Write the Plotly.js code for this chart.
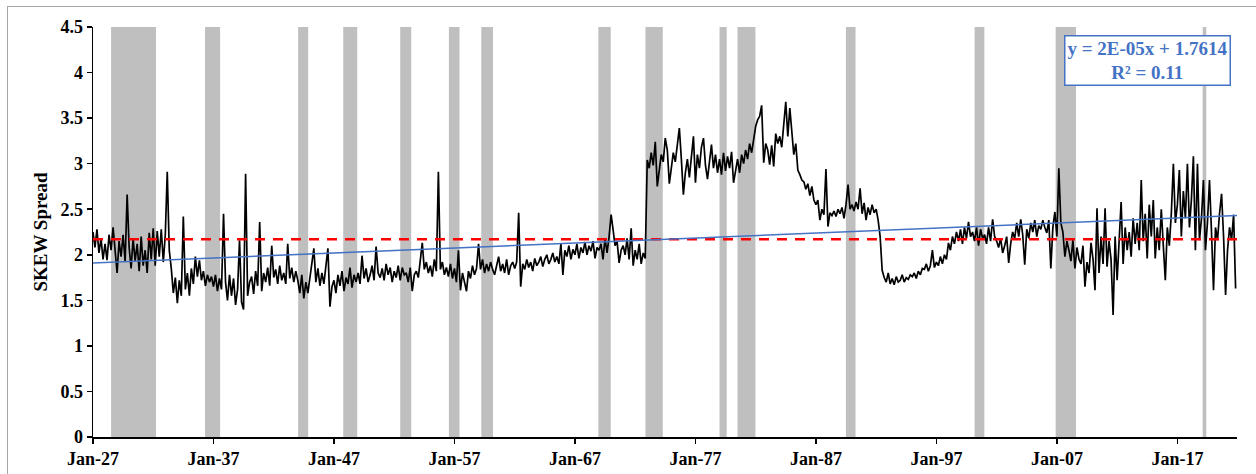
<!DOCTYPE html>
<html><head><meta charset="utf-8">
<script src="https://cdn.plot.ly/plotly-3.0.1.min.js"></script>
<style>
html,body{margin:0;padding:0;background:#fff;}
#wrap{position:relative;width:1256px;height:474px;overflow:hidden;}
#chart{width:1256px;height:474px;}
#frame{position:absolute;left:7px;top:6px;width:1300px;height:500px;border:1px solid #a6a6a6;pointer-events:none;}
</style></head><body>
<div id="wrap"><div id="chart"></div><div id="frame"></div></div>
<script>
// ---- data (bi-monthly readings, 6 per year, starting Jan 1927) ----
const startYear = 1927;
const perYear = 6;
const skewSpread = [
/*1927*/ 2.25, 2.08, 2.28, 2.02, 2.18, 1.95,
/*1928*/ 2.12, 1.94, 2.22, 2.05, 2.30, 2.02,
/*1929*/ 1.80, 2.15, 1.98, 2.22, 1.92, 2.66,
/*1930*/ 2.08, 1.85, 2.18, 1.93, 2.12, 1.82,
/*1931*/ 2.20, 1.88, 2.05, 1.80, 2.24, 1.95,
/*1932*/ 2.29, 1.88, 2.26, 1.98, 2.28, 1.92,
/*1933*/ 2.22, 2.91, 2.05, 1.85, 1.58, 1.75,
/*1934*/ 1.47, 1.72, 1.55, 2.42, 1.62, 1.80,
/*1935*/ 1.55, 1.85, 1.68, 1.98, 1.76, 1.94,
/*1936*/ 1.72, 1.82, 1.66, 1.78, 1.70, 1.76,
/*1937*/ 1.65, 1.78, 1.60, 1.74, 1.62, 2.45,
/*1938*/ 1.70, 1.50, 1.78, 1.55, 1.74, 1.45,
/*1939*/ 1.62, 2.16, 1.48, 1.40, 2.89, 1.55,
/*1940*/ 1.70, 1.76, 1.57, 1.82, 1.66, 2.36,
/*1941*/ 1.60, 1.80, 1.70, 1.86, 1.66, 2.10,
/*1942*/ 1.75, 1.84, 1.68, 1.88, 1.72, 1.80,
/*1943*/ 1.68, 2.12, 1.74, 1.86, 1.70, 1.82,
/*1944*/ 1.72, 1.58, 1.78, 1.52, 1.70, 1.58,
/*1945*/ 1.75, 1.90, 2.07, 1.70, 1.85, 1.66,
/*1946*/ 1.80, 1.68, 1.88, 2.07, 1.43, 1.65,
/*1947*/ 1.72, 1.58, 1.78, 1.66, 1.82, 1.60,
/*1948*/ 1.75, 1.68, 1.86, 1.64, 1.78, 1.70,
/*1949*/ 1.80, 1.68, 1.99, 1.74, 1.85, 1.70,
/*1950*/ 1.78, 1.88, 1.72, 2.09, 1.80, 1.75,
/*1951*/ 1.85, 1.72, 1.90, 1.78, 1.86, 1.70,
/*1952*/ 1.82, 1.75, 1.88, 1.72, 1.86, 1.78,
/*1953*/ 1.80, 1.70, 1.86, 1.60, 1.78, 1.82,
/*1954*/ 1.75, 1.92, 2.13, 1.84, 1.92, 1.80,
/*1955*/ 1.88, 1.76, 1.95, 1.82, 2.91, 1.84,
/*1956*/ 1.92, 1.78, 1.86, 1.76, 1.90, 1.74,
/*1957*/ 1.85, 1.70, 2.05, 1.61, 1.80, 1.70,
/*1958*/ 1.60, 1.82, 1.74, 1.88, 1.78, 1.85,
/*1959*/ 2.12, 1.84, 1.95, 1.80, 1.90, 1.82,
/*1960*/ 1.92, 1.84, 1.78, 1.88, 1.98, 1.82,
/*1961*/ 1.90, 1.80, 1.95, 1.78, 1.88, 1.92,
/*1962*/ 1.85, 1.92, 2.46, 1.65, 1.90, 1.84,
/*1963*/ 1.95, 1.86, 1.92, 1.82, 1.96, 1.88,
/*1964*/ 1.92, 1.98, 1.87, 1.95, 2.00, 1.90,
/*1965*/ 1.95, 2.02, 1.92, 1.98, 1.90, 2.12,
/*1966*/ 1.78, 2.05, 1.98, 2.10, 1.95, 2.06,
/*1967*/ 2.00, 2.12, 1.96, 2.08, 2.02, 2.14,
/*1968*/ 2.00, 2.10, 2.04, 2.15, 1.96, 2.08,
/*1969*/ 2.05, 2.12, 1.95, 2.18, 2.02, 2.20,
/*1970*/ 2.44, 2.28, 2.10, 2.15, 1.91, 2.05,
/*1971*/ 2.10, 2.00, 2.18, 1.95, 2.29, 1.88,
/*1972*/ 2.05, 1.95, 2.12, 1.90, 2.02, 1.96,
/*1973*/ 3.04, 2.95, 3.12, 2.98, 3.24, 2.75,
/*1974*/ 2.92, 3.10, 3.02, 3.28, 3.15, 2.78,
/*1975*/ 2.95, 3.12, 3.02, 3.20, 3.39, 3.05,
/*1976*/ 2.66, 2.90, 3.05, 2.85, 3.12, 3.30,
/*1977*/ 2.79, 3.10, 2.95, 3.18, 3.28, 2.98,
/*1978*/ 2.83, 3.05, 3.21, 2.95, 3.10, 2.90,
/*1979*/ 3.05, 2.88, 3.12, 2.92, 3.08, 2.95,
/*1980*/ 3.13, 2.79, 2.95, 3.05, 2.90, 3.10,
/*1981*/ 3.00, 3.15, 3.05, 3.22, 3.12, 3.28,
/*1982*/ 3.41, 3.48, 3.52, 3.64, 3.01, 3.22,
/*1983*/ 3.15, 2.99, 3.20, 2.97, 3.33, 3.22,
/*1984*/ 3.30, 3.18, 3.45, 3.68, 3.30, 3.61,
/*1985*/ 3.35, 3.10, 3.22, 2.93, 2.88, 2.82,
/*1986*/ 2.80, 2.72, 2.78, 2.65, 2.75, 2.60,
/*1987*/ 2.55, 2.60, 2.38, 2.50, 2.44, 2.94,
/*1988*/ 2.31, 2.46, 2.43, 2.48, 2.42, 2.50,
/*1989*/ 2.45, 2.52, 2.40, 2.55, 2.77, 2.50,
/*1990*/ 2.55, 2.48, 2.58, 2.50, 2.73, 2.45,
/*1991*/ 2.57, 2.38, 2.52, 2.44, 2.55, 2.46,
/*1992*/ 2.50, 2.38, 2.20, 1.83, 1.75, 1.70,
/*1993*/ 1.80, 1.68, 1.74, 1.67, 1.76, 1.70,
/*1994*/ 1.72, 1.78, 1.70, 1.75, 1.73, 1.78,
/*1995*/ 1.76, 1.80, 1.74, 1.82, 1.78, 1.85,
/*1996*/ 1.84, 1.90, 1.82, 1.88, 2.05, 1.86,
/*1997*/ 1.92, 1.88, 1.98, 1.90, 2.00, 1.95,
/*1998*/ 2.13, 2.05, 2.20, 2.12, 2.25, 2.15,
/*1999*/ 2.28, 2.12, 2.30, 2.18, 2.36, 2.20,
/*2000*/ 2.25, 2.15, 2.30, 2.10, 2.28, 2.18,
/*2001*/ 2.22, 2.12, 2.30, 2.15, 2.39, 2.20,
/*2002*/ 2.15, 2.08, 2.18, 2.02, 2.10, 2.20,
/*2003*/ 1.91, 2.12, 2.25, 2.18, 2.35, 2.20,
/*2004*/ 2.39, 2.22, 1.89, 2.28, 2.18, 2.35,
/*2005*/ 2.25, 2.38, 2.20, 2.32, 2.28, 2.38,
/*2006*/ 2.30, 2.24, 2.38, 1.85, 2.30, 2.47,
/*2007*/ 2.20, 2.95, 2.35, 2.25, 1.98, 2.15,
/*2008*/ 2.05, 1.93, 2.16, 1.85, 2.08, 1.95,
/*2009*/ 1.90, 2.10, 1.65, 1.92, 1.80, 2.13,
/*2010*/ 1.95, 1.61, 2.51, 1.80, 2.20, 1.90,
/*2011*/ 2.51, 1.87, 2.15, 1.95, 1.34, 2.20,
/*2012*/ 1.72, 2.10, 2.58, 1.90, 2.30, 2.05,
/*2013*/ 2.25, 1.98, 2.40, 2.12, 2.35, 2.05,
/*2014*/ 2.82, 2.15, 2.45, 1.96, 2.55, 2.20,
/*2015*/ 2.60, 1.96, 2.30, 2.05, 2.50, 2.10,
/*2016*/ 1.72, 2.30, 2.10, 2.45, 3.00, 2.35,
/*2017*/ 2.55, 2.93, 2.20, 2.70, 2.40, 3.00,
/*2018*/ 2.30, 2.60, 3.08, 2.05, 3.00, 2.16,
/*2019*/ 2.40, 2.82, 2.05, 2.35, 2.82, 2.25,
/*2020*/ 1.61, 2.30, 2.16, 2.45, 2.67, 2.20,
/*2021*/ 1.56, 2.05, 2.30, 2.16, 2.44, 1.63
];
const meanLevel = 2.17;
const trendYears = [1927.0, 2021.95];
const trendValues = [1.91, 2.43];
const recessionStart = [1928.50, 1936.30, 1944.03, 1947.77, 1952.50, 1956.54, 1959.23, 1968.94, 1972.85, 1979.00, 1980.49, 1989.49, 2000.17, 2006.90, 2019.10];
const recessionEnd   = [1932.23, 1937.55, 1944.86, 1948.93, 1953.41, 1957.42, 1960.20, 1969.97, 1974.29, 1979.60, 1981.98, 1990.29, 2000.98, 2008.59, 2019.40];
const tickYears  = [1927, 1937, 1947, 1957, 1967, 1977, 1987, 1997, 2007, 2017];
const tickLabels = ['Jan-27','Jan-37','Jan-47','Jan-57','Jan-67','Jan-77','Jan-87','Jan-97','Jan-07','Jan-17'];
const axisStartYear = 1927.0, axisEndYear = 2021.95;
const yTitle = 'SKEW Spread';
const eqText = 'y = 2E-05x + 1.7614<br>R² = 0.11';

// ---- helpers ----
function yearToDate(y){
  const yr = Math.floor(y), frac = y - yr;
  const a = Date.UTC(yr,0,1), b = Date.UTC(yr+1,0,1);
  return new Date(a + frac*(b-a)).toISOString().slice(0,10);
}
const xDates = skewSpread.map((v,i)=>{
  const yr = startYear + Math.floor(i/perYear);
  const m = (i%perYear)*(12/perYear) + 1;
  return yr + '-' + String(m).padStart(2,'0') + '-01';
});
const x0 = yearToDate(axisStartYear), x1 = yearToDate(axisEndYear);
const FONT = 'Liberation Serif, Times New Roman, serif';

const traces = [
  {x:xDates, y:skewSpread, type:'scatter', mode:'lines', line:{color:'#000000', width:1.7}, hoverinfo:'skip'},
  {x:[x0,x1], y:[meanLevel,meanLevel], type:'scatter', mode:'lines', line:{color:'#ff0000', width:2.6, dash:'10px,8px'}, hoverinfo:'skip'},
  {x:trendYears.map(yearToDate), y:trendValues, type:'scatter', mode:'lines', line:{color:'#4472C4', width:1.5}, hoverinfo:'skip'}
];

const shapes = recessionStart.map((s,i)=>({
  type:'rect', xref:'x', yref:'y', layer:'below',
  x0:yearToDate(s), x1:yearToDate(recessionEnd[i]), y0:0, y1:4.5,
  fillcolor:'#bfbfbf', line:{width:0}
}));

const layout = {
  width:1256, height:474,
  margin:{l:93, r:19, t:27, b:37, pad:0},
  paper_bgcolor:'#ffffff', plot_bgcolor:'#ffffff',
  showlegend:false,
  font:{family:FONT, color:'#000'},
  xaxis:{
    type:'date', range:[x0,x1],
    tickmode:'array', tickvals:tickYears.map(yearToDate), ticktext:tickLabels,
    ticks:'outside', ticklen:5, tickwidth:1.5, tickcolor:'#000',
    showline:true, linecolor:'#000', linewidth:1.5,
    showgrid:false, zeroline:false,
    tickfont:{family:FONT, size:18, color:'#000', weight:'bold'}
  },
  yaxis:{
    range:[0,4.5], dtick:0.5, tick0:0,
    ticks:'outside', ticklen:5, tickwidth:1.5, tickcolor:'#000',
    showline:true, linecolor:'#000', linewidth:1.5,
    showgrid:false, zeroline:false,
    tickfont:{family:FONT, size:18, color:'#000', weight:'bold'},
    title:{text:yTitle, font:{family:FONT, size:19, color:'#000', weight:'bold'}, standoff:8}
  },
  shapes:shapes,
  annotations:[{
    xref:'paper', yref:'paper', x:0.922, y:0.918, xanchor:'center', yanchor:'middle',
    text:eqText, showarrow:false, align:'center',
    font:{family:FONT, size:19, color:'#4472C4', weight:'bold'},
    bordercolor:'#4472C4', borderwidth:1.5, borderpad:1, bgcolor:'#ffffff', width:162
  }]
};
Plotly.newPlot('chart', traces, layout, {staticPlot:true, displayModeBar:false});
</script>
</body></html>
